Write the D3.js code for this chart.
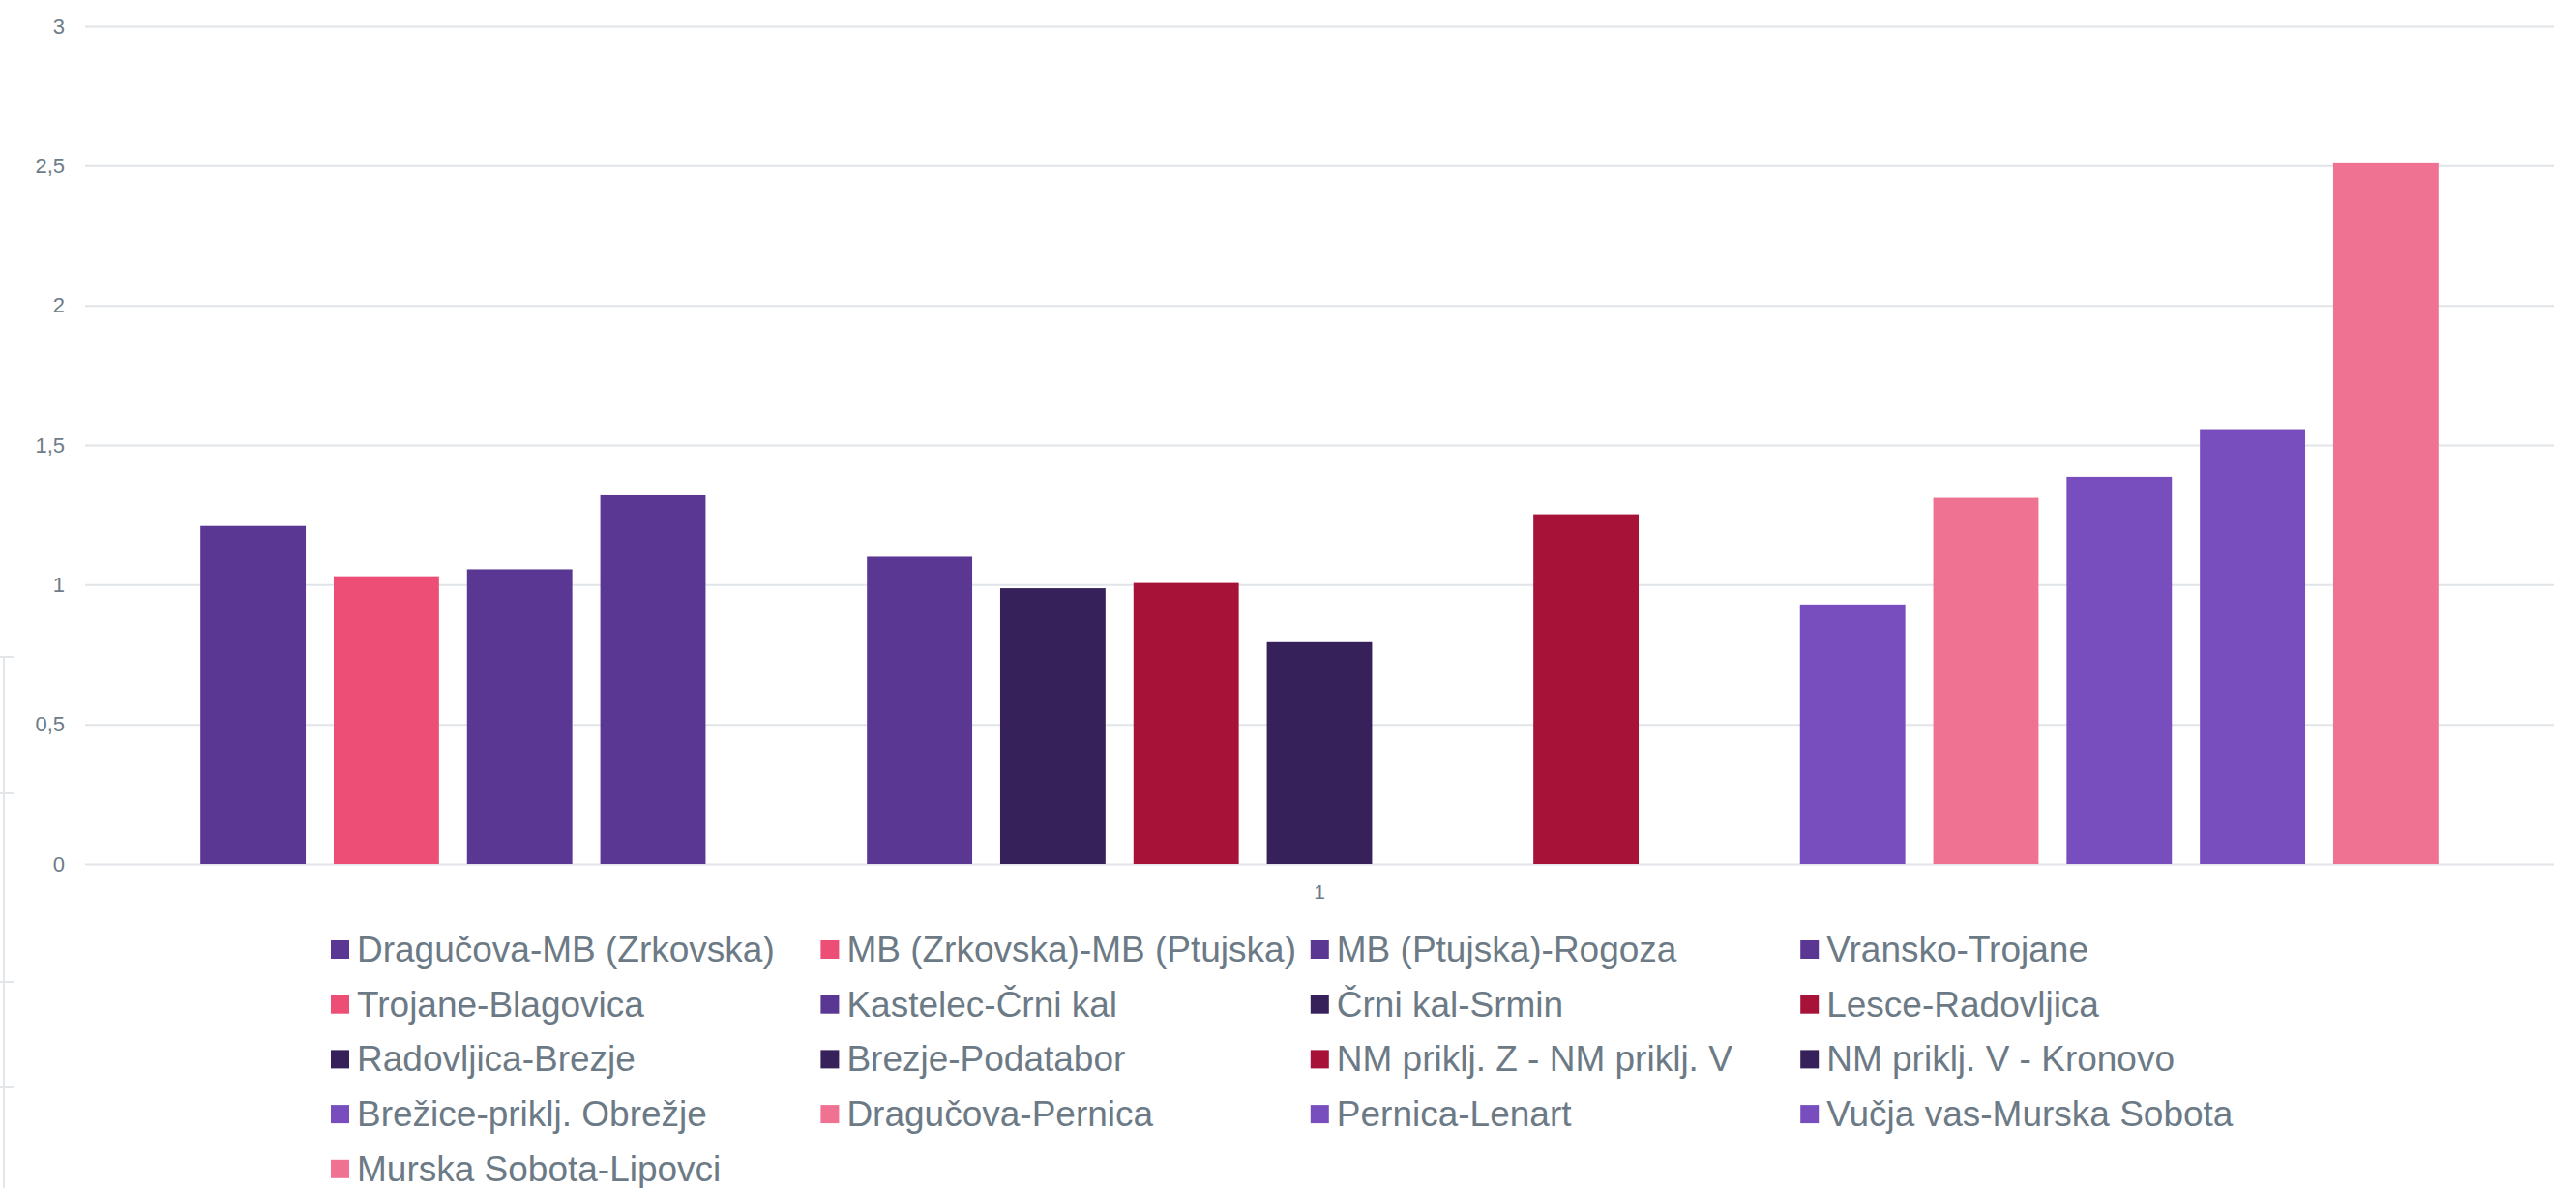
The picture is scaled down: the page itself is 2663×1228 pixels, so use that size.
<!DOCTYPE html>
<html>
<head>
<meta charset="utf-8">
<script src="https://cdn.jsdelivr.net/npm/d3@7"></script>
<style>
  body { margin: 0; background: #fff; }
  text { font-family: "Liberation Sans", Arial, sans-serif; }
</style>
</head>
<body>
<div id="chart-area"></div>
<script>
// data
var categories = ["1"];
var series = [
    "Dragučova-MB (Zrkovska)", "MB (Zrkovska)-MB (Ptujska)", "MB (Ptujska)-Rogoza", "Vransko-Trojane",
    "Trojane-Blagovica", "Kastelec-Črni kal", "Črni kal-Srmin", "Lesce-Radovljica",
    "Radovljica-Brezje", "Brezje-Podatabor", "NM priklj. Z - NM priklj. V", "NM priklj. V - Kronovo",
    "Brežice-priklj. Obrežje", "Dragučova-Pernica", "Pernica-Lenart", "Vučja vas-Murska Sobota",
    "Murska Sobota-Lipovci"
];
var values = [1.21, 1.03, 1.055, 1.32, null, 1.10, 0.987, 1.006, 0.794, null, 1.252, null, 0.929, 1.311, 1.386, 1.557, 2.512];
var colors = [
    "#5b3794", "#ec4e76", "#5b3794", "#5b3794",
    "#ec4e76", "#5b3794", "#36215a", "#a71338",
    "#36215a", "#36215a", "#a71338", "#36215a",
    "#784dbd", "#f07293", "#784dbd", "#784dbd",
    "#f07293"
];
var yTicks = [0, 0.5, 1, 1.5, 2, 2.5, 3];

var W = 2663, H = 1228;
var margin = {left: 88, right: 2640, top: 27, bottom: 893};

var svg = d3.select("#chart-area")
  .append("svg")
    .attr("width", W)
    .attr("height", H);

var locale = d3.formatLocale({decimal: ",", thousands: ".", grouping: [3], currency: ["", "€"]});
var fmt = locale.format("~g");

var y = d3.scaleLinear()
    .domain([0, 3])
    .range([margin.bottom, margin.top]);

var x0 = d3.scaleBand()
    .domain(categories)
    .range([margin.left, margin.right])
    .paddingOuter(0.0447);

var x1 = d3.scaleBand()
    .domain(series)
    .range([0, x0.bandwidth()])
    .paddingInner(0.21)
    .paddingOuter(0.105);

var color = d3.scaleOrdinal().domain(series).range(colors);

// faint frame fragment at the left edge
var frame = svg.append("g").attr("stroke", "#e3e6e9").attr("stroke-width", 2).attr("fill", "none");
frame.append("line").attr("x1", 4).attr("x2", 4).attr("y1", 679).attr("y2", H);
[679, 820, 1015, 1124].forEach((yy) => {
    frame.append("line").attr("x1", 0).attr("x2", 14).attr("y1", yy).attr("y2", yy);
});

// y axis + gridlines
var yAxisCall = d3.axisLeft(y)
    .tickValues(yTicks)
    .tickSize(-(margin.right - margin.left))
    .tickPadding(21)
    .tickFormat(fmt);
var yAxis = svg.append("g")
    .attr("class", "left axis")
    .attr("transform", "translate(" + margin.left + ",0)")
    .call(yAxisCall);
yAxis.select(".domain").remove();
yAxis.selectAll("line").attr("stroke", "#e1e4e8").attr("stroke-width", 2);
yAxis.selectAll("text")
    .attr("fill", "#6e7c87")
    .attr("font-size", "22px");

// bars
var g = svg.append("g");
var groups = g.selectAll("g.cat").data(categories)
  .enter().append("g")
    .attr("class", "cat")
    .attr("transform", (d) => "translate(" + x0(d) + ",0)");

groups.selectAll("rect")
    .data(series.map((s, i) => ({name: s, value: values[i]})).filter((d) => d.value != null))
  .enter().append("rect")
    .attr("x", (d) => x1(d.name))
    .attr("y", (d) => y(d.value))
    .attr("width", x1.bandwidth())
    .attr("height", (d) => y(0) - y(d.value))
    .attr("fill", (d) => color(d.name));

// category axis
var xAxis = svg.append("g")
    .attr("class", "bottom axis")
    .attr("transform", "translate(0," + margin.bottom + ")")
    .call(d3.axisBottom(x0).tickSize(0).tickPadding(21));
xAxis.select(".domain").remove();
xAxis.selectAll("text")
    .attr("fill", "#6e7c87")
    .attr("font-size", "21px");

// legend
var legX = 342, legY = 972, colW = 506.4, rowH = 56.7, sw = 19;
var legend = svg.append("g").attr("class", "legend");
var items = legend.selectAll("g").data(series)
  .enter().append("g")
    .attr("transform", (d, i) => "translate(" + (legX + (i % 4) * colW) + "," + (legY + Math.floor(i / 4) * rowH) + ")");
items.append("rect")
    .attr("width", sw)
    .attr("height", sw)
    .attr("fill", (d) => color(d));
items.append("text")
    .attr("x", 27)
    .attr("y", 22)
    .attr("font-size", "37px")
    .attr("fill", "#6c7a86")
    .text((d) => d);
</script>
</body>
</html>
